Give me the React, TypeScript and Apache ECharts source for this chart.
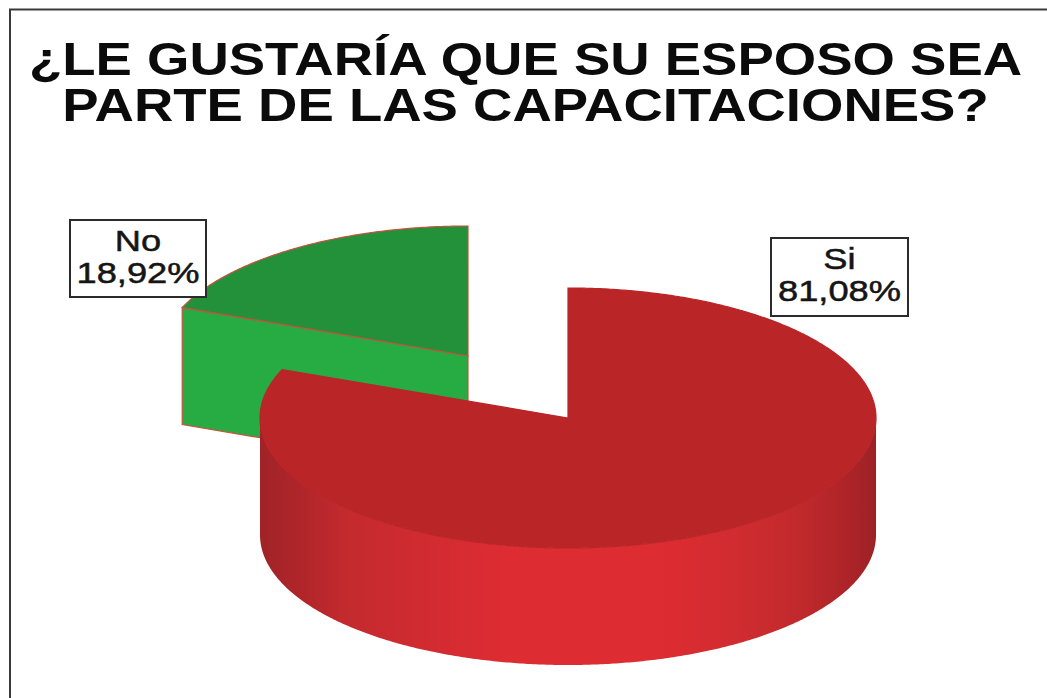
import React, { useEffect, useRef } from "react";
import * as echarts from "echarts";

const titleLines = ["¿LE GUSTARÍA QUE SU ESPOSO SEA", "PARTE DE LAS CAPACITACIONES?"];
const categories = ["Si", "No"];
const percentages = [81.08, 18.92];
const percentLabels = ["81,08%", "18,92%"];

const FONT = '"Liberation Sans", Arial, sans-serif';
const RX = 308;
const RY = 130;
const DEPTH = 117;
const CENTER = [568, 418];
const sliceOffsets = [[0, 0], [-100, -62]];
const labelBoxes = [[771, 238, 137, 78], [70, 220, 136, 77]];
const sliceLayers = [5, 1];
const topColors = ["#ba2527", "#23903a"];
const cutColors = ["#ba2527", "#27ab43"];
const edgeColors = ["#ba2527", "#c8523e"];

const wallGradient = {
  type: "linear", x: 0, y: 0, x2: 1, y2: 0,
  colorStops: [
    { offset: 0, color: "#a02327" },
    { offset: 0.06, color: "#ae2529" },
    { offset: 0.14, color: "#c32a2e" },
    { offset: 0.25, color: "#cf2b31" },
    { offset: 0.4, color: "#dd2c32" },
    { offset: 0.65, color: "#dd2c32" },
    { offset: 0.78, color: "#d02c30" },
    { offset: 0.88, color: "#c0292c" },
    { offset: 0.95, color: "#ae2428" },
    { offset: 1, color: "#9c2226" },
  ],
};

function App() {
  const ref = useRef<HTMLDivElement>(null);
  useEffect(() => {
    const chart = echarts.init(ref.current, null, { renderer: "svg" });
    const total = percentages.reduce((a, b) => a + b, 0);
    const point = (deg: number, cx: number, cy: number) => {
      const r = (deg * Math.PI) / 180;
      return [cx + RX * Math.sin(r), cy - RY * Math.cos(r)];
    };
    const arc = (from: number, to: number, cx: number, cy: number) => {
      const pts: number[][] = [];
      const n = Math.max(1, Math.ceil(Math.abs(to - from) * 2));
      for (let i = 0; i <= n; i++) pts.push(point(from + ((to - from) * i) / n, cx, cy));
      return pts;
    };
    const renderItem = (params: any, api: any) => {
      const i = params.dataIndex;
      const before = percentages.slice(0, i).reduce((a, b) => a + b, 0);
      const start = (before / total) * 360;
      const end = start + (api.value(0) / total) * 360;
      const cx = CENTER[0] + sliceOffsets[i][0];
      const cy = CENTER[1] + sliceOffsets[i][1];
      const z = sliceLayers[i];
      const children: any[] = [];
      const stroke = edgeColors[i];
      const cut = (deg: number) => {
        const [px, py] = point(deg, cx, cy);
        children.push({
          type: "polygon", z2: z,
          shape: { points: [[cx, cy], [px, py], [px, py + DEPTH], [cx, cy + DEPTH]] },
          style: { fill: cutColors[i], stroke, lineWidth: 1.2 },
        });
      };
      if (Math.sin((start * Math.PI) / 180) < -1e-6) cut(start);
      if (Math.sin((end * Math.PI) / 180) > 1e-6) cut(end);
      const wFrom = Math.max(start, 90);
      const wTo = Math.min(end, 270);
      if (wTo > wFrom) {
        const upper = arc(wFrom, wTo, cx, cy);
        const lower = arc(wTo, wFrom, cx, cy + DEPTH);
        children.push({
          type: "polygon", z2: z + 1,
          shape: { points: [...upper, ...lower] },
          style: { fill: wallGradient },
        });
      }
      children.push({
        type: "polygon", z2: z + 2,
        shape: { points: [[cx, cy], ...arc(start, end, cx, cy)] },
        style: { fill: topColors[i], stroke, lineWidth: 1.2 },
      });
      const [bx, by, bw, bh] = labelBoxes[i];
      children.push({
        type: "rect", z2: 20,
        shape: { x: bx, y: by, width: bw, height: bh },
        style: { fill: "#ffffff", stroke: "#2b2b2b", lineWidth: 2 },
      });
      const labelText = (text: string, y: number) => ({
        type: "text", z2: 21, x: bx + bw / 2, y, scaleX: 1.21,
        style: {
          text, fill: "#151515", font: `30px ${FONT}`,
          stroke: "#151515", lineWidth: 0.5,
          textAlign: "center", textVerticalAlign: "top",
        },
      });
      children.push(labelText(categories[i], by + 6));
      children.push(labelText(percentLabels[i], by + 38));
      return { type: "group", children };
    };
    const titleText = (text: string, y: number) => ({
      type: "text", x: 525.5, y, scaleX: 1.185,
      style: {
        text, fill: "#0b0b0b", font: `bold 46px ${FONT}`,
        textAlign: "center", textVerticalAlign: "top",
      },
    });
    chart.setOption({
      animation: false,
      backgroundColor: "#ffffff",
      graphic: [
        { type: "polyline", shape: { points: [[10, 698], [10, 9.5], [1047, 9.5]] }, style: { fill: "none", stroke: "#3a3a3a", lineWidth: 2 } },
        titleText(titleLines[0], 36),
        titleText(titleLines[1], 82),
      ],
      series: [
        {
          type: "custom",
          coordinateSystem: "none",
          renderItem,
          silent: true,
          data: categories.map((name, i) => ({ name, value: [percentages[i]] })),
        },
      ],
    });
    return () => chart.dispose();
  }, []);
  return <div ref={ref} style={{ position: "fixed", left: 0, top: 0, width: 1047, height: 698 }} />;
}

export default App;
